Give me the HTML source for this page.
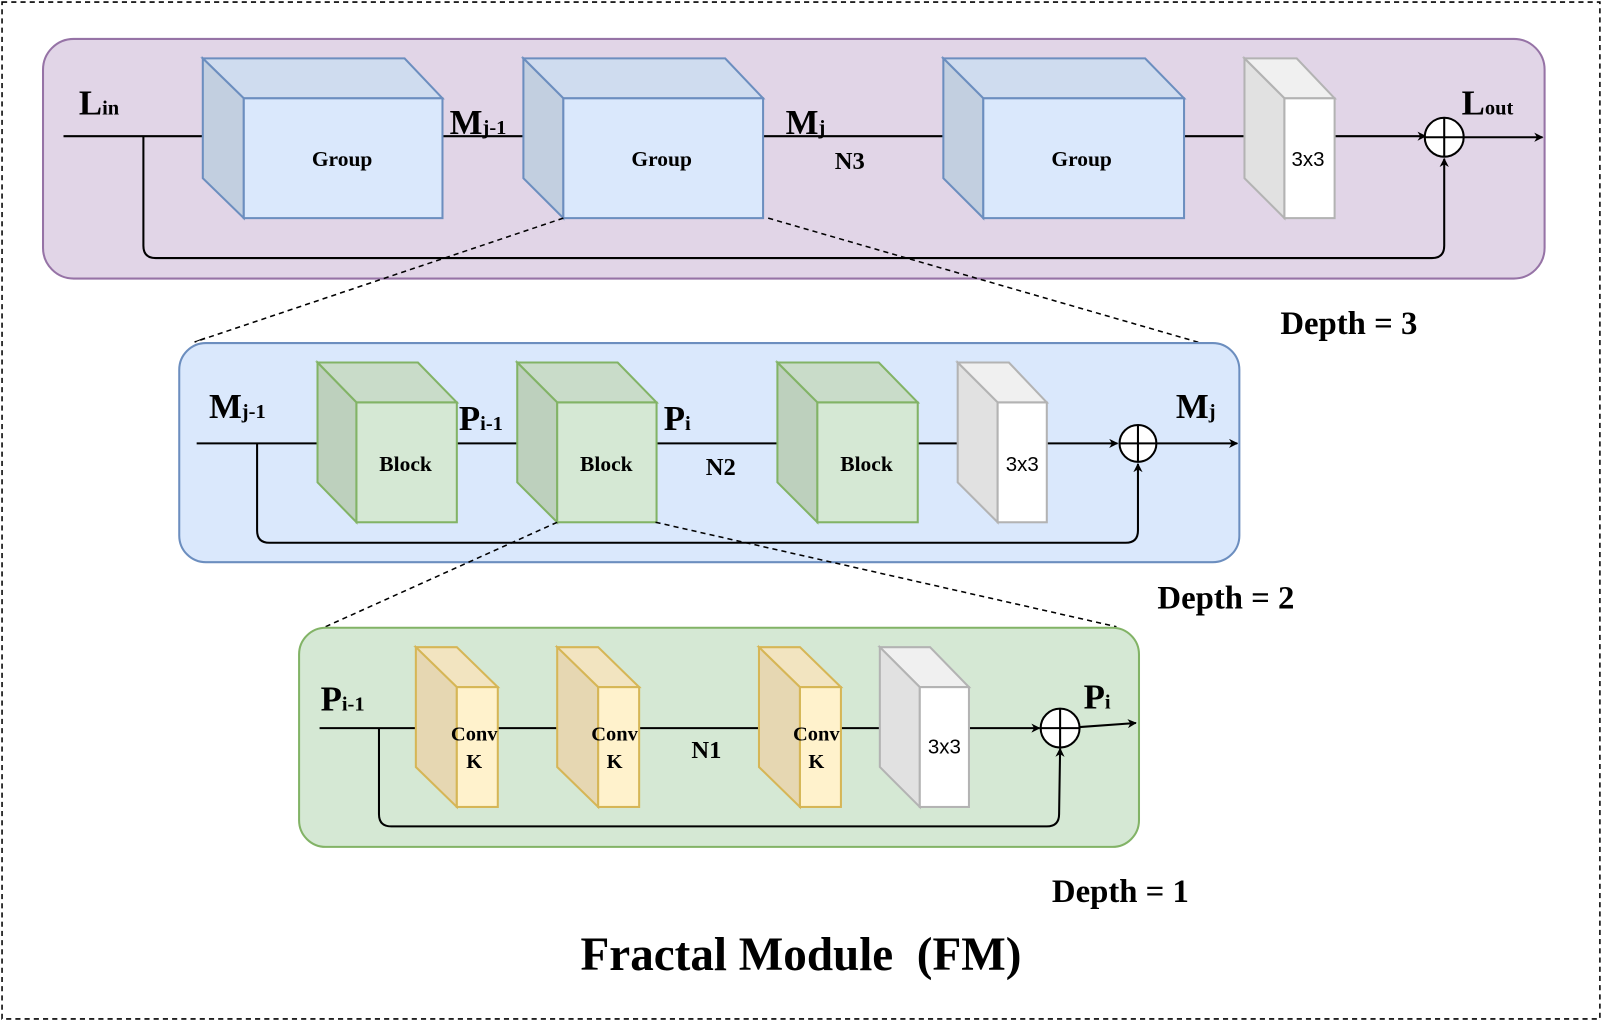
<!DOCTYPE html>
<html><head><meta charset="utf-8"><style>
html,body{margin:0;padding:0;background:#fff;}
svg{display:block;}
text{font-family:"Liberation Serif",serif;font-weight:bold;fill:#000;}
.s{font-family:"Liberation Sans",sans-serif;font-weight:normal;}
</style></head><body>
<svg width="1604" height="1022" viewBox="0 0 1566 998" preserveAspectRatio="none" xmlns="http://www.w3.org/2000/svg">
<defs>
<marker id="a" viewBox="0 0 10 10" refX="9" refY="5" markerWidth="9" markerHeight="9" markerUnits="userSpaceOnUse" orient="auto">
<path d="M0,0 L10,5 L0,10 L3,5 z" fill="#000"/></marker>
</defs>
<rect x="2" y="2" width="1560" height="993" fill="none" stroke="#000" stroke-width="1.5" stroke-dasharray="5,4"/>

<!-- Depth 3 -->
<rect x="42" y="38" width="1466" height="234" rx="30" fill="#e1d5e7" stroke="#9673a6" stroke-width="2"/>
<path d="M62,133 H1392" stroke="#000" stroke-width="2" fill="none" marker-end="url(#a)"/>
<path d="M1429,134 H1506" stroke="#000" stroke-width="2" fill="none" marker-end="url(#a)"/>
<path d="M140,133 V240 Q140,252 152,252 H1398 Q1410,252 1410,240 V155" stroke="#000" stroke-width="2" fill="none" marker-end="url(#a)"/>
<g stroke="#6c8ebf" stroke-width="2">
<polygon points="198,57 395,57 432,96 238,96" fill="#cfdcef"/><polygon points="198,57 238,96 238,213 198,174" fill="#c2cfe0"/><rect x="238" y="96" width="194" height="117" fill="#dae8fc"/>
<polygon points="511,57 708,57 745,96 550,96" fill="#cfdcef"/><polygon points="511,57 550,96 550,213 511,174" fill="#c2cfe0"/><rect x="550" y="96" width="195" height="117" fill="#dae8fc"/>
<polygon points="921,57 1118,57 1156,96 960,96" fill="#cfdcef"/><polygon points="921,57 960,96 960,213 921,174" fill="#c2cfe0"/><rect x="960" y="96" width="196" height="117" fill="#dae8fc"/>
</g>
<g stroke="#b3b3b3" stroke-width="2">
<polygon points="1215,57 1266,57 1303,96 1254,96" fill="#f0f0f0"/><polygon points="1215,57 1254,96 1254,213 1215,174" fill="#e1e1e1"/><rect x="1254" y="96" width="49" height="117" fill="#fff"/>
</g>
<circle cx="1410" cy="134" r="19" fill="#fff" stroke="#000" stroke-width="2"/><path d="M1391,134 H1429 M1410,115 V153" stroke="#000" stroke-width="2"/>
<text x="334" y="162" font-size="21" text-anchor="middle">Group</text>
<text x="646" y="162" font-size="21" text-anchor="middle">Group</text>
<text x="1056" y="162" font-size="21" text-anchor="middle">Group</text>
<text x="1277" y="162" font-size="20" text-anchor="middle" class="s">3x3</text>
<text x="77" y="112" font-size="34">L<tspan font-size="20">in</tspan></text>
<text x="439" y="131" font-size="34">M<tspan font-size="20">j-1</tspan></text>
<text x="767" y="131" font-size="34">M<tspan font-size="20">j</tspan></text>
<text x="815" y="165" font-size="24">N3</text>
<text x="1427" y="112" font-size="34">L<tspan font-size="20">out</tspan></text>
<text x="1250" y="326" font-size="32">Depth = 3</text>

<path d="M550,213 L190,334 M750,213 L1190,340" stroke="#000" stroke-width="1.5" stroke-dasharray="5,4"/>

<!-- Depth 2 -->
<rect x="175" y="335" width="1035" height="214" rx="26" fill="#dae8fc" stroke="#6c8ebf" stroke-width="2"/>
<path d="M190,334 L200,330" stroke="#000"/>
<path d="M192,433 H1091" stroke="#000" stroke-width="2" fill="none" marker-end="url(#a)"/>
<path d="M1129,433 H1208" stroke="#000" stroke-width="2" fill="none" marker-end="url(#a)"/>
<path d="M251,433 V518 Q251,530 263,530 H1099 Q1111,530 1111,518 V453" stroke="#000" stroke-width="2" fill="none" marker-end="url(#a)"/>
<g stroke="#82b366" stroke-width="2">
<polygon points="310,354 408,354 446,393 348,393" fill="#c9dcc9"/><polygon points="310,354 348,393 348,510 310,471" fill="#bdd0bd"/><rect x="348" y="393" width="98" height="117" fill="#d5e8d4"/>
<polygon points="505,354 603,354 641,393 544,393" fill="#c9dcc9"/><polygon points="505,354 544,393 544,510 505,471" fill="#bdd0bd"/><rect x="544" y="393" width="97" height="117" fill="#d5e8d4"/>
<polygon points="759,354 858,354 896,393 798,393" fill="#c9dcc9"/><polygon points="759,354 798,393 798,510 759,471" fill="#bdd0bd"/><rect x="798" y="393" width="98" height="117" fill="#d5e8d4"/>
</g>
<g stroke="#b3b3b3" stroke-width="2">
<polygon points="935,354 985,354 1022,393 974,393" fill="#f0f0f0"/><polygon points="935,354 974,393 974,510 935,471" fill="#e1e1e1"/><rect x="974" y="393" width="48" height="117" fill="#fff"/>
</g>
<circle cx="1111" cy="433" r="18" fill="#fff" stroke="#000" stroke-width="2"/><path d="M1093,433 H1129 M1111,415 V451" stroke="#000" stroke-width="2"/>
<text x="396" y="460" font-size="21" text-anchor="middle">Block</text>
<text x="592" y="460" font-size="21" text-anchor="middle">Block</text>
<text x="846" y="460" font-size="21" text-anchor="middle">Block</text>
<text x="998" y="460" font-size="20" text-anchor="middle" class="s">3x3</text>
<text x="204" y="408" font-size="34">M<tspan font-size="20">j-1</tspan></text>
<text x="448" y="420" font-size="34">P<tspan font-size="20">i-1</tspan></text>
<text x="648" y="420" font-size="34">P<tspan font-size="20">i</tspan></text>
<text x="689" y="464" font-size="24">N2</text>
<text x="1148" y="408" font-size="34">M<tspan font-size="20">j</tspan></text>
<text x="1130" y="594" font-size="32">Depth = 2</text>

<path d="M544,510 L300,620 M640,510 L1090,612" stroke="#000" stroke-width="1.5" stroke-dasharray="5,4"/>

<!-- Depth 1 -->
<rect x="292" y="613" width="820" height="214" rx="26" fill="#d5e8d4" stroke="#82b366" stroke-width="2"/>
<path d="M312,711 H1015" stroke="#000" stroke-width="2" fill="none" marker-end="url(#a)"/>
<path d="M1054,710 L1109,706" stroke="#000" stroke-width="2" fill="none" marker-end="url(#a)"/>
<path d="M370,711 V795 Q370,807 382,807 H1022 Q1034,807 1034,795 L1035,731" stroke="#000" stroke-width="2" fill="none" marker-end="url(#a)"/>
<g stroke="#d6b656" stroke-width="2">
<polygon points="406,632 446,632 486,671 446,671" fill="#f2e4c0"/><polygon points="406,632 446,671 446,788 406,749" fill="#e6d7b2"/><rect x="446" y="671" width="40" height="117" fill="#fff2cc"/>
<polygon points="544,632 584,632 624,671 584,671" fill="#f2e4c0"/><polygon points="544,632 584,671 584,788 544,749" fill="#e6d7b2"/><rect x="584" y="671" width="40" height="117" fill="#fff2cc"/>
<polygon points="741,632 781,632 821,671 781,671" fill="#f2e4c0"/><polygon points="741,632 781,671 781,788 741,749" fill="#e6d7b2"/><rect x="781" y="671" width="40" height="117" fill="#fff2cc"/>
</g>
<g stroke="#b3b3b3" stroke-width="2">
<polygon points="859,632 908,632 946,671 898,671" fill="#f0f0f0"/><polygon points="859,632 898,671 898,788 859,749" fill="#e1e1e1"/><rect x="898" y="671" width="48" height="117" fill="#fff"/>
</g>
<circle cx="1035" cy="711" r="19" fill="#fff" stroke="#000" stroke-width="2"/><path d="M1016,711 H1054 M1035,692 V730" stroke="#000" stroke-width="2"/>
<g font-size="20" text-anchor="middle">
<text x="463" y="723">Conv</text><text x="463" y="750">K</text>
<text x="600" y="723">Conv</text><text x="600" y="750">K</text>
<text x="797" y="723">Conv</text><text x="797" y="750">K</text>
</g>
<text x="922" y="736" font-size="20" text-anchor="middle" class="s">3x3</text>
<text x="313" y="694" font-size="34">P<tspan font-size="20">i-1</tspan></text>
<text x="1058" y="692" font-size="34">P<tspan font-size="20">i</tspan></text>
<text x="675" y="740" font-size="24">N1</text>
<text x="1027" y="881" font-size="32">Depth = 1</text>

<text x="782" y="947" font-size="46" text-anchor="middle" xml:space="preserve">Fractal Module  (FM)</text>
</svg>
</body></html>
